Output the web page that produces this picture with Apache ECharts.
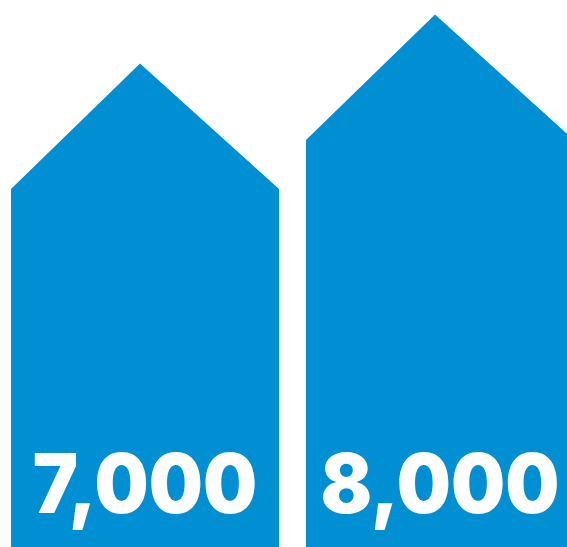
<!DOCTYPE html>
<html>
<head>
<meta charset="utf-8">
<style>html,body{margin:0;padding:0;background:#fff}#chart{width:567px;height:547px}</style>
<script src="https://cdn.jsdelivr.net/npm/echarts@6/dist/echarts.min.js"></script>
</head>
<body>
<div id="chart"></div>
<script>
// Two house-shaped columns, each topped at its value.
const categories = ['A', 'B'];
const values = [7000, 8000];
const axisFloor = -2857;
const axisCeiling = 8000;

const BAR_WIDTH = 268;
const ROOF_DEPTH = 125.5;
const APEX_SHIFT = -5;

const chart = echarts.init(document.getElementById('chart'), null, { renderer: 'canvas' });

function renderHouse(params, api) {
  const value = api.value(1);
  const apex = api.coord([api.value(0), value]);
  const floor = api.coord([api.value(0), axisFloor]);
  const left = apex[0] - BAR_WIDTH / 2;
  const right = apex[0] + BAR_WIDTH / 2;
  const shoulder = apex[1] + ROOF_DEPTH;
  return {
    type: 'group',
    children: [
      {
        type: 'polygon',
        shape: {
          points: [
            [left, floor[1]],
            [left, shoulder],
            [apex[0] + APEX_SHIFT, apex[1]],
            [right, shoulder],
            [right, floor[1]]
          ]
        },
        style: { fill: '#008fd2' }
      },
      {
        type: 'text',
        x: apex[0],
        y: 488,
        scaleX: 0.93,
        style: {
          x: 0,
          y: 0,
          text: value.toLocaleString('en-US'),
          fill: '#ffffff',
          font: '900 82px Inter',
          textAlign: 'center',
          textVerticalAlign: 'middle'
        }
      }
    ]
  };
}

chart.setOption({
  animation: false,
  grid: { left: -2.5, top: 14.5, width: 590, height: 532.5, outerBoundsMode: 'none' },
  xAxis: { type: 'category', data: categories, show: false },
  yAxis: { type: 'value', min: axisFloor, max: axisCeiling, show: false },
  series: [{
    type: 'custom',
    clip: false,
    renderItem: renderHouse,
    data: categories.map((c, i) => [i, values[i]]),
    encode: { x: 0, y: 1 }
  }]
});
</script>
</body>
</html>
